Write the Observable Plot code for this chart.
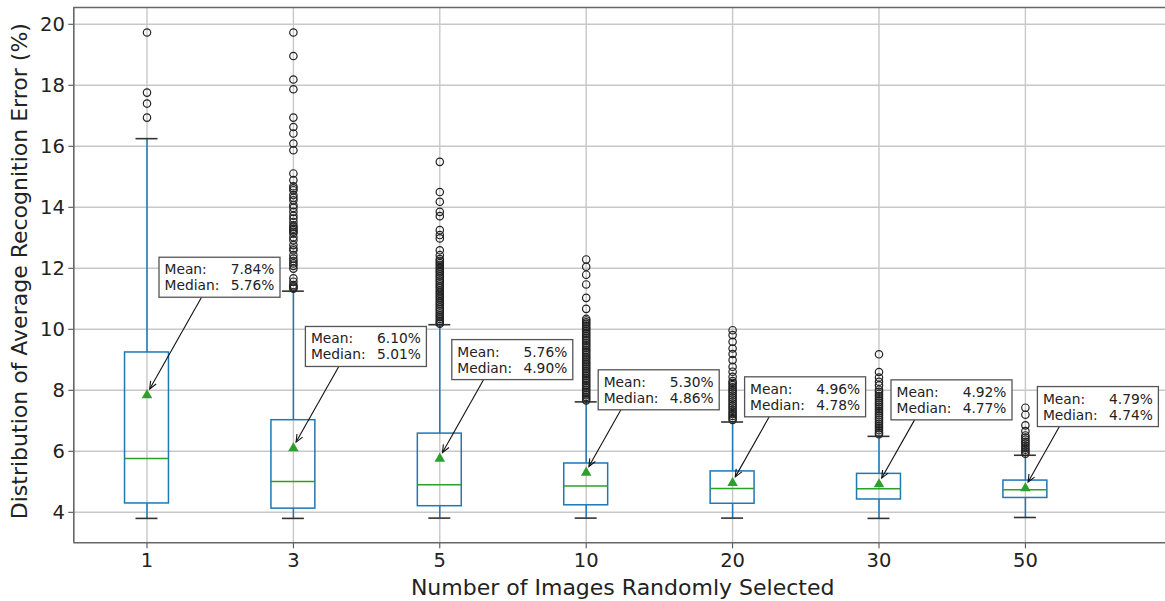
<!DOCTYPE html>
<html><head><meta charset="utf-8">
<script src="https://cdn.jsdelivr.net/npm/d3@7"></script>
<script src="https://cdn.jsdelivr.net/npm/@observablehq/plot@0.6"></script>
<style>body{margin:0;background:#fff}</style>
</head><body><div id="chart"></div>
<script>
// ---- data ----
const sizes = ["1", "3", "5", "10", "20", "30", "50"];
const q1 = [4.29, 4.12, 4.20, 4.23, 4.28, 4.42, 4.47];
const q3 = [9.24, 7.02, 6.58, 5.60, 5.34, 5.26, 5.04];
const medians = [5.76, 5.01, 4.90, 4.86, 4.78, 4.77, 4.74];
const means = [7.84, 6.10, 5.76, 5.30, 4.96, 4.92, 4.79];
const whiskerLo = [3.80, 3.80, 3.81, 3.81, 3.81, 3.80, 3.83];
const whiskerHi = [16.25, 11.25, 10.15, 7.62, 6.96, 6.49, 5.87];
const labelAt = [11.69, 9.42, 8.99, 8.00, 7.77, 7.67, 7.45];
const outliers = [
  [19.73, 17.76, 17.40, 16.94],
  [19.73, 18.96, 18.19, 17.87, 16.94, 16.63, 16.42, 16.09, 15.87, 15.11, 14.89, 14.69, 14.62, 14.56, 14.40, 14.31, 14.23, 14.07, 13.98, 13.85, 13.72, 13.63, 13.52, 13.41, 13.36, 13.30, 13.25, 13.20, 13.14, 13.02, 12.92, 12.76, 12.65, 12.59, 12.43, 12.32, 12.24, 12.16, 12.08, 11.99, 11.67, 11.56, 11.45, 11.41, 11.37, 11.33],
  [15.49, 14.50, 14.18, 13.85, 13.71, 13.25, 13.09, 12.98, 12.59, 12.43, 12.30, 12.24, 12.17, 12.11, 12.04, 11.98, 11.91, 11.86, 11.79, 11.73, 11.66, 11.60, 11.53, 11.47, 11.41, 11.35, 11.28, 11.22, 11.16, 11.09, 11.03, 10.97, 10.90, 10.84, 10.78, 10.71, 10.65, 10.59, 10.52, 10.46, 10.40, 10.34, 10.28, 10.22, 10.18],
  [12.29, 12.05, 11.79, 11.47, 11.03, 10.67, 10.34, 10.29, 10.23, 10.18, 10.12, 10.06, 10.01, 9.95, 9.89, 9.84, 9.78, 9.72, 9.66, 9.61, 9.55, 9.49, 9.44, 9.38, 9.32, 9.27, 9.21, 9.15, 9.09, 9.04, 8.98, 8.92, 8.87, 8.81, 8.75, 8.70, 8.64, 8.58, 8.52, 8.47, 8.41, 8.35, 8.30, 8.24, 8.18, 8.13, 8.07, 8.01, 7.95, 7.90, 7.84, 7.78, 7.73, 7.67],
  [9.97, 9.81, 9.59, 9.37, 9.19, 8.99, 8.77, 8.61, 8.44, 8.30, 8.24, 8.17, 8.10, 8.03, 7.97, 7.90, 7.83, 7.76, 7.70, 7.63, 7.56, 7.49, 7.43, 7.36, 7.29, 7.22, 7.16, 7.09, 7.03],
  [9.18, 8.60, 8.42, 8.28, 8.16, 8.02, 7.95, 7.88, 7.81, 7.74, 7.67, 7.60, 7.53, 7.46, 7.39, 7.32, 7.25, 7.18, 7.11, 7.04, 6.97, 6.90, 6.83, 6.76, 6.69, 6.62, 6.56],
  [7.43, 7.20, 6.85, 6.66, 6.52, 6.45, 6.38, 6.31, 6.25, 6.18, 6.11, 6.05, 5.98, 5.92]
];
const yTicks = [4, 6, 8, 10, 12, 14, 16, 18, 20];
const xLabel = "Number of Images Randomly Selected";
const yLabel = "Distribution of Average Recognition Error (%)";

// ---- build ----
const groups = sizes.map((s, i) => ({
  pos: i + 1, q1: q1[i], q3: q3[i], median: medians[i], mean: means[i],
  lo: whiskerLo[i], hi: whiskerHi[i], lab: labelAt[i]
}));
const fliers = outliers.flatMap((arr, i) => arr.map(v => ({pos: i + 1, v})));
const BOX = 0.15, CAP = 0.075;
const BLUE = "#1f77b4", GREEN = "#2ca02c";

function annotations(index, scales) {
  const x = scales.x, y = scales.y;
  const g = d3.create("svg:g").attr("font-family", "DejaVu Sans").attr("font-size", 13.8)
    .attr("fill", "#222").attr("text-anchor", "start");
  const ux0 = 0.565, uy0 = -1, L = Math.hypot(ux0, uy0), ux = ux0 / L, uy = uy0 / L;
  groups.forEach(d => {
    const px = x(d.pos), py = y(d.mean);
    const bw = 121, bh = 40;
    const bx = px + 12.5, by = y(d.lab) - bh / 2;
    const bottom = by + bh;
    const t = (bottom - py) / uy;
    const sx = px + ux * t, sy = bottom;
    const tx = px + ux * 6.5, ty = py + uy * 6.5;
    g.append("line").attr("x1", sx).attr("y1", sy).attr("x2", tx).attr("y2", ty)
      .attr("stroke", "#111").attr("stroke-width", 1.1);
    const hl = 7.5, hw = 3.2;
    const bxh = tx + ux * hl, byh = ty + uy * hl;
    const nx = -uy, ny = ux;
    g.append("path")
      .attr("d", `M${bxh + nx * hw},${byh + ny * hw}L${tx},${ty}L${bxh - nx * hw},${byh - ny * hw}`)
      .attr("fill", "none").attr("stroke", "#111").attr("stroke-width", 1.1);
    g.append("rect").attr("x", bx).attr("y", by).attr("width", bw).attr("height", bh)
      .attr("fill", "#fff").attr("stroke", "#555").attr("stroke-width", 1.3);
    const i = d.pos - 1;
    g.append("text").attr("x", bx + 5.5).attr("y", by + 17).attr("text-anchor", "start").text("Mean:");
    g.append("text").attr("x", bx + bw - 5.5).attr("y", by + 17).attr("text-anchor", "end").text(means[i].toFixed(2) + "%");
    g.append("text").attr("x", bx + 5.5).attr("y", by + 33).attr("text-anchor", "start").text("Median:");
    g.append("text").attr("x", bx + bw - 5.5).attr("y", by + 33).attr("text-anchor", "end").text(medians[i].toFixed(2) + "%");
  });
  return g.node();
}

const chart = Plot.plot({
  width: 1165, height: 601,
  marginTop: 7, marginBottom: 58.7, marginLeft: 73.3, marginRight: 0,
  style: {fontFamily: "DejaVu Sans", fontSize: "19.5px", color: "#222", background: "#fff"},
  x: {domain: [0.5, 7.957]},
  y: {domain: [3.0, 20.55]},
  marks: [
    Plot.gridX(groups.map(d => d.pos), {stroke: "#c8c8c8", strokeOpacity: 1, strokeWidth: 1.4}),
    Plot.gridY(yTicks, {stroke: "#c8c8c8", strokeOpacity: 1, strokeWidth: 1.4}),
    Plot.ruleX(groups, {x: "pos", y1: "q3", y2: "hi", stroke: BLUE, strokeWidth: 1.5}),
    Plot.ruleX(groups, {x: "pos", y1: "lo", y2: "q1", stroke: BLUE, strokeWidth: 1.5}),
    Plot.ruleY(groups, {y: "hi", x1: d => d.pos - CAP, x2: d => d.pos + CAP, stroke: "#333", strokeWidth: 1.6}),
    Plot.ruleY(groups, {y: "lo", x1: d => d.pos - CAP, x2: d => d.pos + CAP, stroke: "#333", strokeWidth: 1.6}),
    Plot.rect(groups, {x1: d => d.pos - BOX, x2: d => d.pos + BOX, y1: "q1", y2: "q3", fill: "none", stroke: BLUE, strokeWidth: 1.5}),
    Plot.ruleY(groups, {y: "median", x1: d => d.pos - BOX, x2: d => d.pos + BOX, stroke: GREEN, strokeWidth: 1.5}),
    Plot.dot(groups, {x: "pos", y: "mean", symbol: "triangle", r: 3.9, fill: GREEN, stroke: "none"}),
    Plot.dot(fliers, {x: "pos", y: "v", r: 3.7, stroke: "#222", fill: "none", strokeWidth: 1.2}),
    annotations,
    Plot.axisX({ticks: groups.map(d => d.pos), tickFormat: d => sizes[d - 1], tickSize: 6, tickPadding: 4, label: null, stroke: "#444"}),
    Plot.axisY({ticks: yTicks, tickSize: 5, tickPadding: 4, label: null, stroke: "#444"}),
    Plot.ruleY([3.0, 20.55], {stroke: "#666", strokeWidth: 1.6}),
    Plot.ruleX([0.5], {stroke: "#666", strokeWidth: 1.6}),
    Plot.text([yLabel], {frameAnchor: "left", textAnchor: "middle", lineAnchor: "middle", dx: -54, dy: -4, rotate: -90, fontSize: 22, fill: "#222"}),
    Plot.text([xLabel], {frameAnchor: "bottom", textAnchor: "middle", lineAnchor: "middle", dy: 45, dx: 3, fontSize: 22, fill: "#222"})
  ]
});
document.getElementById("chart").appendChild(chart);
</script>
</body></html>
